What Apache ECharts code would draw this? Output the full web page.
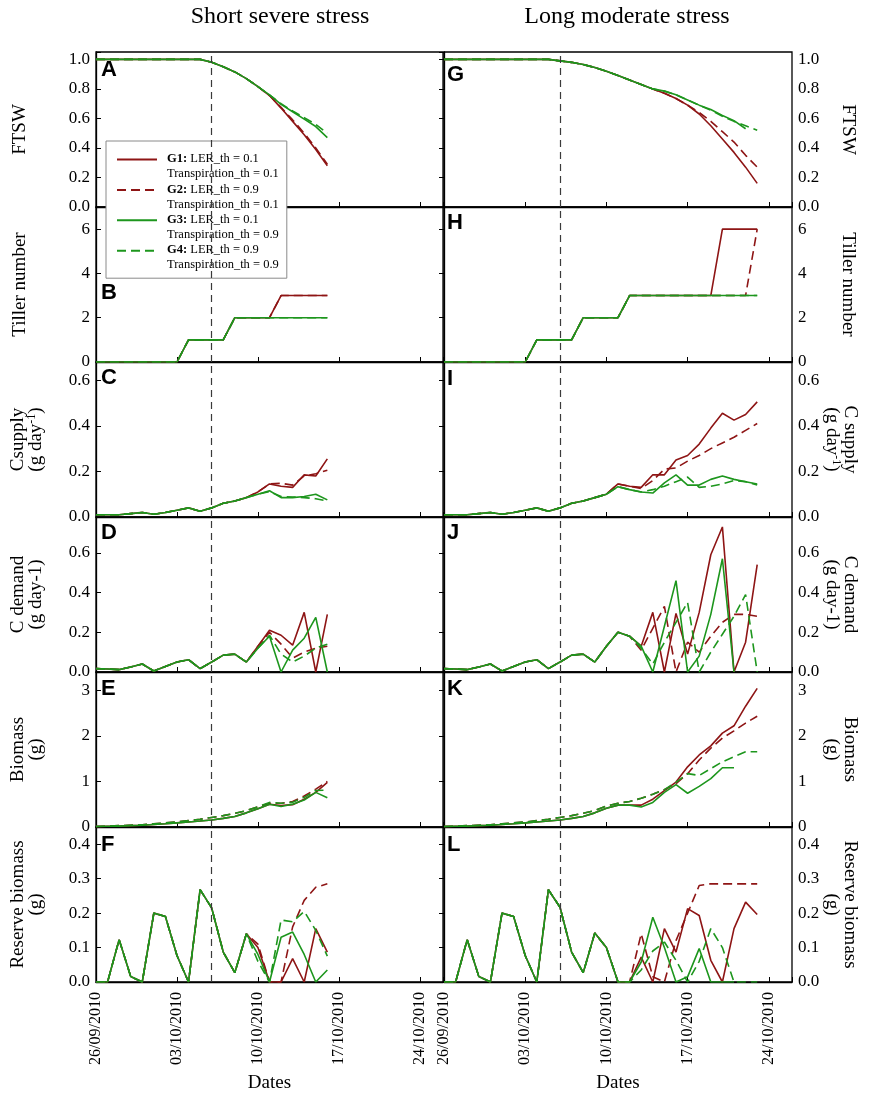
<!DOCTYPE html>
<html><head><meta charset="utf-8">
<script src="https://cdn.jsdelivr.net/npm/echarts@6/dist/echarts.min.js"></script>
<style>html,body{margin:0;padding:0;background:#fff}#c{width:892px;height:1097px}</style>
</head><body><div id="c"></div>
<script>
// ---------- x axis (days after 26/09/2010) ----------
const dayTicks = [0, 7, 14, 21, 28];
const tickLabels = ['26/09/2010', '03/10/2010', '10/10/2010', '17/10/2010', '24/10/2010'];
const stressDay = 10;

// ---------- Short severe stress (left column), index = day ----------
const ftswS_G1 = [1,1,1,1,1,1,1,1,1,1,0.98,0.95,0.915,0.87,0.815,0.755,0.67,0.58,0.49,0.39,0.28];
const ftswS_G2 = [1,1,1,1,1,1,1,1,1,1,0.98,0.95,0.915,0.87,0.815,0.755,0.675,0.59,0.50,0.40,0.29];
const ftswS_G3 = [1,1,1,1,1,1,1,1,1,1,0.98,0.95,0.915,0.87,0.815,0.76,0.695,0.645,0.595,0.545,0.47];
const ftswS_G4 = [1,1,1,1,1,1,1,1,1,1,0.98,0.95,0.915,0.87,0.815,0.76,0.70,0.65,0.605,0.56,0.50];

const tillS_G1 = [0,0,0,0,0,0,0,0,1,1,1,1,2,2,2,2,3,3,3,3,3];
const tillS_G2 = [0,0,0,0,0,0,0,0,1,1,1,1,2,2,2,2,3,3,3,3,3];
const tillS_G3 = [0,0,0,0,0,0,0,0,1,1,1,1,2,2,2,2,2,2,2,2,2];
const tillS_G4 = [0,0,0,0,0,0,0,0,1,1,1,1,2,2,2,2,2,2,2,2,2];

const csupS_G1 = [0.01,0.01,0.01,0.015,0.02,0.012,0.02,0.03,0.04,0.025,0.04,0.06,0.07,0.085,0.11,0.145,0.135,0.13,0.185,0.18,0.255];
const csupS_G2 = [0.01,0.01,0.01,0.015,0.02,0.012,0.02,0.03,0.04,0.025,0.04,0.06,0.07,0.085,0.11,0.145,0.148,0.14,0.18,0.19,0.205];
const csupS_G3 = [0.01,0.01,0.01,0.015,0.02,0.012,0.02,0.03,0.04,0.025,0.04,0.06,0.07,0.085,0.10,0.115,0.085,0.085,0.09,0.10,0.075];
const csupS_G4 = [0.01,0.01,0.01,0.015,0.02,0.012,0.02,0.03,0.04,0.025,0.04,0.06,0.07,0.085,0.10,0.112,0.09,0.088,0.085,0.08,0.07];

const cdemS_G1 = [0.017,0.015,0.012,0.025,0.04,0.005,0.028,0.05,0.062,0.017,0.05,0.085,0.09,0.05,0.13,0.21,0.185,0.135,0.30,0,0.29];
const cdemS_G2 = [0.017,0.015,0.012,0.025,0.04,0.005,0.028,0.05,0.062,0.017,0.05,0.085,0.09,0.05,0.13,0.20,0.14,0.07,0.10,0.12,0.13];
const cdemS_G3 = [0.017,0.015,0.012,0.025,0.04,0.005,0.028,0.05,0.062,0.017,0.05,0.085,0.09,0.05,0.12,0.18,0,0.11,0.17,0.275,0];
const cdemS_G4 = [0.017,0.015,0.012,0.025,0.04,0.005,0.028,0.05,0.062,0.017,0.05,0.085,0.09,0.05,0.12,0.185,0.09,0.05,0.08,0.12,0.14];

const bioS_G1 = [0.01,0.015,0.02,0.03,0.04,0.055,0.07,0.09,0.11,0.13,0.155,0.19,0.23,0.31,0.40,0.50,0.47,0.49,0.61,0.76,0.98];
const bioS_G2 = [0.01,0.02,0.03,0.04,0.05,0.07,0.09,0.11,0.14,0.17,0.21,0.25,0.30,0.36,0.44,0.52,0.52,0.56,0.68,0.83,1.0];
const bioS_G3 = [0.01,0.015,0.02,0.03,0.04,0.055,0.07,0.09,0.11,0.13,0.155,0.19,0.23,0.31,0.40,0.50,0.45,0.50,0.59,0.76,0.64];
const bioS_G4 = [0.01,0.02,0.03,0.04,0.05,0.07,0.09,0.11,0.14,0.17,0.21,0.25,0.30,0.36,0.44,0.54,0.52,0.54,0.65,0.80,0.81];

const resS_G1 = [0,0,0.123,0.016,0,0.20,0.19,0.077,0,0.268,0.215,0.087,0.027,0.14,0.10,0,0,0.068,0,0.155,0.087];
const resS_G2 = [0,0,0.123,0.016,0,0.20,0.19,0.077,0,0.268,0.215,0.087,0.027,0.14,0.11,0,0,0.16,0.237,0.275,0.285];
const resS_G3 = [0,0,0.123,0.016,0,0.20,0.19,0.077,0,0.268,0.215,0.087,0.027,0.14,0.08,0,0.13,0.145,0.08,0,0.035];
const resS_G4 = [0,0,0.123,0.016,0,0.20,0.19,0.077,0,0.268,0.215,0.087,0.027,0.14,0.06,0,0.18,0.175,0.205,0.15,0.075];

// ---------- Long moderate stress (right column), index = day ----------
const ftswL_G1 = [1,1,1,1,1,1,1,1,1,1,0.99,0.98,0.965,0.945,0.92,0.89,0.86,0.83,0.80,0.77,0.735,0.69,0.63,0.55,0.46,0.37,0.27,0.16];
const ftswL_G2 = [1,1,1,1,1,1,1,1,1,1,0.99,0.98,0.965,0.945,0.92,0.89,0.86,0.83,0.80,0.77,0.735,0.69,0.64,0.58,0.51,0.44,0.35,0.27];
const ftswL_G3 = [1,1,1,1,1,1,1,1,1,1,0.99,0.98,0.965,0.945,0.92,0.89,0.86,0.83,0.80,0.785,0.76,0.725,0.69,0.66,0.62,0.585,0.53];
const ftswL_G4 = [1,1,1,1,1,1,1,1,1,1,0.99,0.98,0.965,0.945,0.92,0.89,0.86,0.83,0.80,0.785,0.76,0.725,0.69,0.655,0.615,0.58,0.55,0.52];

const tillL_G1 = [0,0,0,0,0,0,0,0,1,1,1,1,2,2,2,2,3,3,3,3,3,3,3,3,6,6,6,6];
const tillL_G2 = [0,0,0,0,0,0,0,0,1,1,1,1,2,2,2,2,3,3,3,3,3,3,3,3,3,3,3,6];
const tillL_G3 = [0,0,0,0,0,0,0,0,1,1,1,1,2,2,2,2,3,3,3,3,3,3,3,3,3,3,3,3];
const tillL_G4 = [0,0,0,0,0,0,0,0,1,1,1,1,2,2,2,2,3,3,3,3,3,3,3,3,3,3,3,3];

const csupL_G1 = [0.01,0.01,0.01,0.015,0.02,0.012,0.02,0.03,0.04,0.025,0.04,0.06,0.07,0.085,0.10,0.145,0.135,0.13,0.185,0.185,0.25,0.27,0.32,0.39,0.455,0.425,0.45,0.505];
const csupL_G2 = [0.01,0.01,0.01,0.015,0.02,0.012,0.02,0.03,0.04,0.025,0.04,0.06,0.07,0.085,0.10,0.145,0.135,0.125,0.16,0.21,0.215,0.245,0.27,0.30,0.325,0.35,0.38,0.41];
const csupL_G3 = [0.01,0.01,0.01,0.015,0.02,0.012,0.02,0.03,0.04,0.025,0.04,0.06,0.07,0.085,0.10,0.133,0.12,0.11,0.105,0.15,0.185,0.14,0.14,0.165,0.18,0.165,0.155,0.145];
const csupL_G4 = [0.01,0.01,0.01,0.015,0.02,0.012,0.02,0.03,0.04,0.025,0.04,0.06,0.07,0.085,0.10,0.133,0.12,0.11,0.12,0.135,0.155,0.175,0.13,0.135,0.145,0.16,0.155,0.14];

const cdemL_G1 = [0.017,0.015,0.012,0.025,0.04,0.005,0.028,0.05,0.062,0.017,0.05,0.085,0.09,0.05,0.13,0.20,0.18,0.13,0.30,0,0.295,0.09,0.30,0.59,0.73,0,0.15,0.54];
const cdemL_G2 = [0.017,0.015,0.012,0.025,0.04,0.005,0.028,0.05,0.062,0.017,0.05,0.085,0.09,0.05,0.13,0.20,0.18,0.11,0.22,0.33,0,0.15,0.10,0.18,0.25,0.29,0.29,0.28];
const cdemL_G3 = [0.017,0.015,0.012,0.025,0.04,0.005,0.028,0.05,0.062,0.017,0.05,0.085,0.09,0.05,0.13,0.20,0.18,0.13,0,0.23,0.46,0,0.08,0.29,0.57,0];
const cdemL_G4 = [0.017,0.015,0.012,0.025,0.04,0.005,0.028,0.05,0.062,0.017,0.05,0.085,0.09,0.05,0.13,0.20,0.18,0.12,0.04,0.15,0.25,0.35,0,0.10,0.19,0.28,0.39,0];

const bioL_G1 = [0.01,0.015,0.02,0.03,0.04,0.055,0.07,0.09,0.11,0.13,0.155,0.19,0.23,0.31,0.41,0.48,0.48,0.48,0.61,0.80,0.985,1.32,1.58,1.78,2.06,2.22,2.65,3.04];
const bioL_G2 = [0.01,0.02,0.03,0.04,0.05,0.07,0.09,0.11,0.14,0.17,0.21,0.25,0.30,0.36,0.46,0.52,0.56,0.63,0.72,0.82,0.95,1.17,1.47,1.73,1.95,2.11,2.28,2.43];
const bioL_G3 = [0.01,0.015,0.02,0.03,0.04,0.055,0.07,0.09,0.11,0.13,0.155,0.19,0.23,0.31,0.41,0.48,0.48,0.44,0.54,0.76,0.93,0.74,0.89,1.06,1.30,1.30];
const bioL_G4 = [0.01,0.02,0.03,0.04,0.05,0.07,0.09,0.11,0.14,0.17,0.21,0.25,0.30,0.36,0.46,0.52,0.56,0.63,0.72,0.82,0.98,1.17,1.13,1.28,1.43,1.54,1.65,1.65];

const resL_G1 = [0,0,0.123,0.016,0,0.20,0.19,0.077,0,0.268,0.217,0.087,0.027,0.142,0.10,0,0,0.072,0,0.155,0.087,0.213,0.193,0.063,0,0.155,0.232,0.196];
const resL_G2 = [0,0,0.123,0.016,0,0.20,0.19,0.077,0,0.268,0.217,0.087,0.027,0.142,0.10,0,0,0.14,0.015,0,0.12,0.20,0.28,0.285,0.285,0.285,0.285,0.285];
const resL_G3 = [0,0,0.123,0.016,0,0.20,0.19,0.077,0,0.268,0.217,0.087,0.027,0.142,0.10,0,0,0.058,0.188,0.10,0,0.015,0.097,0,0,0];
const resL_G4 = [0,0,0.123,0.016,0,0.20,0.19,0.077,0,0.268,0.217,0.087,0.027,0.142,0.10,0,0,0.035,0.09,0.116,0.063,0,0.06,0.155,0.10,0,0,0];

// ---------- labels ----------
const columnTitles = ['Short severe stress', 'Long moderate stress'];
const panelLetters = [['A','B','C','D','E','F'], ['G','H','I','J','K','L']];
const yNamesLeft  = ['FTSW', 'Tiller number', 'Csupply\n(g day{sup|-1})', 'C demand\n(g day-1)', 'Biomass\n(g)', 'Reserve biomass\n(g)'];
const yNamesRight = ['FTSW', 'Tiller number', 'C supply\n(g day{sup|-1})', 'C demand\n(g day-1)', 'Biomass\n(g)', 'Reserve biomass\n(g)'];
const legendNames = ['G1', 'G2', 'G3', 'G4'];
const legendLER = ['0.1', '0.9', '0.1', '0.9'];
const legendTransp = ['0.1', '0.1', '0.9', '0.9'];

// ---------- layout / style ----------
const RED = '#8e1515', GREEN = '#1d961d';
const SERIF = "'Liberation Serif','Times New Roman',serif";
const SANS = "'Liberation Sans',Arial,sans-serif";
const rowTop = [52, 207, 362, 517, 672, 827], rowH = 155;
const colLeft = [96, 444], colW = [347, 348];
const yCfg = [
  {max: 1.05, interval: 0.2, dec: 1},
  {max: 7, interval: 2, dec: 0},
  {max: 0.68, interval: 0.2, dec: 1},
  {max: 0.78, interval: 0.2, dec: 1},
  {max: 3.4, interval: 1, dec: 0},
  {max: 0.45, interval: 0.1, dec: 1}
];
const panelData = [
  [[ftswS_G1,ftswS_G2,ftswS_G3,ftswS_G4],[tillS_G1,tillS_G2,tillS_G3,tillS_G4],[csupS_G1,csupS_G2,csupS_G3,csupS_G4],
   [cdemS_G1,cdemS_G2,cdemS_G3,cdemS_G4],[bioS_G1,bioS_G2,bioS_G3,bioS_G4],[resS_G1,resS_G2,resS_G3,resS_G4]],
  [[ftswL_G1,ftswL_G2,ftswL_G3,ftswL_G4],[tillL_G1,tillL_G2,tillL_G3,tillL_G4],[csupL_G1,csupL_G2,csupL_G3,csupL_G4],
   [cdemL_G1,cdemL_G2,cdemL_G3,cdemL_G4],[bioL_G1,bioL_G2,bioL_G3,bioL_G4],[resL_G1,resL_G2,resL_G3,resL_G4]]
];
const geno = [
  {color: RED, type: 'solid'}, {color: RED, type: [9, 5]},
  {color: GREEN, type: 'solid'}, {color: GREEN, type: [9, 5]}
];
const letterPos = [[70, 293, 378, 533, 689, 845], [75, 223, 379, 533, 689, 845]];

const grids = [], xAxes = [], yAxes = [], series = [], graphics = [];
for (let c = 0; c < 2; c++) {
  for (let r = 0; r < 6; r++) {
    const k = c * 6 + r;
    const cfg = yCfg[r];
    grids.push({left: colLeft[c], top: rowTop[r], width: colW[c], height: rowH,
      show: true, borderColor: '#000', borderWidth: 1.3, backgroundColor: 'transparent'});
    const bottom = r === 5;
    xAxes.push({type: 'value', gridIndex: k, min: 0, max: 30, interval: 7,
      axisLine: {show: true, lineStyle: {color: '#000', width: 1.3}},
      axisTick: {show: true, inside: true, length: 5, lineStyle: {color: '#000'}},
      splitLine: {show: false},
      axisLabel: {show: bottom, rotate: 90, margin: 10, fontFamily: SERIF, fontSize: 16, color: '#000',
        formatter: v => { const i = dayTicks.indexOf(v); return i >= 0 ? tickLabels[i] : ''; }},
      name: bottom ? 'Dates' : '', nameLocation: 'middle', nameGap: 92,
      nameTextStyle: {fontFamily: SERIF, fontSize: 19, color: '#000'}
    });
    yAxes.push({type: 'value', gridIndex: k, min: 0, max: cfg.max, interval: cfg.interval,
      position: c === 0 ? 'left' : 'right',
      axisLine: {show: true, lineStyle: {color: '#000', width: 1.3}},
      axisTick: {show: true, inside: true, length: 5, lineStyle: {color: '#000'}},
      splitLine: {show: false},
      axisLabel: {margin: 6, fontFamily: SERIF, fontSize: 17, color: '#000',
        formatter: v => { const q = v / cfg.interval; return Math.abs(q - Math.round(q)) < 1e-6 ? v.toFixed(cfg.dec) : ''; }}
    });
    const arrs = panelData[c][r];
    for (let g = 0; g < 4; g++) {
      const s = {
        type: 'line', name: legendNames[g], xAxisIndex: k, yAxisIndex: k,
        data: arrs[g].map((v, i) => [i, v]),
        symbol: 'none', showSymbol: false, silent: true, animation: false,
        lineStyle: {color: geno[g].color, width: 1.6, type: geno[g].type},
        itemStyle: {color: geno[g].color}, z: 3
      };
      if (g === 0) {
        s.markLine = {silent: true, symbol: ['none', 'none'], animation: false,
          label: {show: false}, lineStyle: {color: '#3a3a3a', type: [7, 5], width: 1.2},
          data: [{xAxis: stressDay}]};
      }
      series.push(s);
    }
    // panel letter
    graphics.push({type: 'text', x: colLeft[c] + (c === 0 ? 5 : 3), y: letterPos[c][r], z: 20,
      style: {text: panelLetters[c][r], font: `bold 22px ${SANS}`, fill: '#000',
        align: 'left', verticalAlign: 'middle', textAlign: 'left', textVerticalAlign: 'middle'}});
    // y axis name
    const nm = c === 0 ? yNamesLeft[r] : yNamesRight[r];
    const twoLine = nm.indexOf('\n') >= 0;
    const cx = c === 0 ? (twoLine ? 27 : 20) : (twoLine ? 841 : 848);
    graphics.push({type: 'text', x: cx, y: rowTop[r] + rowH / 2, rotation: c === 0 ? Math.PI / 2 : -Math.PI / 2, z: 20,
      style: {text: nm, font: `19px ${SERIF}`, fill: '#000', lineHeight: 18,
        align: 'center', verticalAlign: 'middle', textAlign: 'center', textVerticalAlign: 'middle',
        rich: {sup: {fontSize: 12, fontFamily: SERIF, padding: [0, 0, 9, 0]}}}});
  }
}
// column titles
graphics.push({type: 'text', x: 280, y: 17, z: 20, style: {text: columnTitles[0], font: `24px ${SERIF}`, fill: '#000',
  align: 'center', verticalAlign: 'middle', textAlign: 'center', textVerticalAlign: 'middle'}});
graphics.push({type: 'text', x: 627, y: 17, z: 20, style: {text: columnTitles[1], font: `24px ${SERIF}`, fill: '#000',
  align: 'center', verticalAlign: 'middle', textAlign: 'center', textVerticalAlign: 'middle'}});

const legendText = {};
legendNames.forEach((n, i) => {
  legendText[n] = `{b|${n}:}{t| LER_th = ${legendLER[i]}}\n{s|Transpiration_th = ${legendTransp[i]}}`;
});

const option = {
  animation: false,
  backgroundColor: '#fff',
  grid: grids, xAxis: xAxes, yAxis: yAxes, series: series,
  legend: {
    data: legendNames, orient: 'vertical', left: 106, top: 141, selectedMode: false,
    itemWidth: 40, itemHeight: 30, itemGap: -2.6,
    padding: [6.5, 8, 6.5, 10],
    itemStyle: {opacity: 0},
    backgroundColor: '#fff', borderColor: '#8a8a8a', borderWidth: 1, borderRadius: 0,
    formatter: n => legendText[n],
    textStyle: {fontFamily: SERIF, fontSize: 12.5, color: '#000',
      rich: {
        b: {fontFamily: SERIF, fontSize: 12.5, fontWeight: 'bold', color: '#000', lineHeight: 29, padding: [0, 0, 0, 5]},
        t: {fontFamily: SERIF, fontSize: 12.5, color: '#000', lineHeight: 29},
        s: {fontFamily: SERIF, fontSize: 12.5, color: '#000', lineHeight: 1, padding: [0, 0, 0, 5]}
      }}
  },
  graphic: graphics
};
const chart = echarts.init(document.getElementById('c'));
chart.setOption(option);
</script></body></html>
